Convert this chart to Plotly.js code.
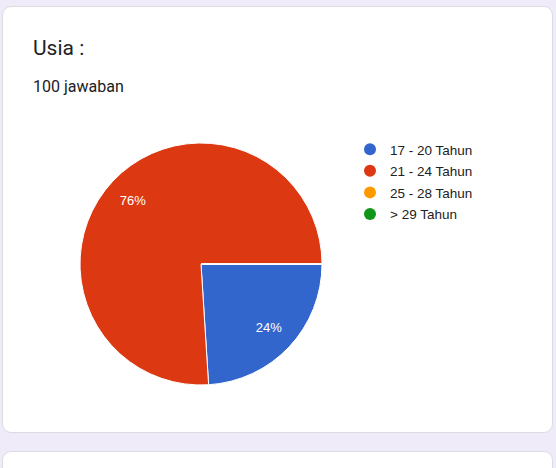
<!DOCTYPE html>
<html>
<head>
<meta charset="utf-8">
<script src="https://cdn.plot.ly/plotly-3.0.1.min.js"></script>
<style>
  html, body { margin:0; padding:0; width:556px; height:468px; overflow:hidden; background:#f0ebf8; }
  .card { position:absolute; background:#fff; border:1px solid #dadce0; border-radius:9px; }
  #chart { position:absolute; left:0; top:0; width:556px; height:468px; }
</style>
</head>
<body>
<div class="card" style="left:2px; top:6px; width:549px; height:425px;"></div>
<div class="card" style="left:2px; top:451px; width:549px; height:40px;"></div>
<div id="chart"></div>
<script>
const categories = ["17 - 20 Tahun", "21 - 24 Tahun", "25 - 28 Tahun", "> 29 Tahun"];
const values = [24, 76, 0, 0];
const colors = ["#3366cc", "#dc3912", "#ff9900", "#109618"];
const titleText = "Usia :";
const subtitleText = "100 jawaban";

const W = 556, H = 468;
const cx = 201, cy = 264, r = 121;
const pieDomain = { x: [(cx - r) / W, (cx + r) / W], y: [(H - cy - r) / H, (H - cy + r) / H] };

const traces = [{
  type: "pie",
  labels: categories,
  values: values,
  marker: { colors: colors, line: { color: "#ffffff", width: 1 } },
  sort: false,
  direction: "clockwise",
  rotation: 90,
  textinfo: "none",
  showlegend: false,
  hoverinfo: "label+percent",
  domain: pieDomain
}, {
  // transparent ring carrying the percentage labels at ~0.77 of the radius
  type: "pie",
  labels: categories,
  values: values,
  hole: 0.54,
  marker: { colors: ["rgba(0,0,0,0)", "rgba(0,0,0,0)", "rgba(0,0,0,0)", "rgba(0,0,0,0)"], line: { width: 0 } },
  sort: false,
  direction: "clockwise",
  rotation: 90,
  texttemplate: "%{percent:.0%}",
  textposition: "inside",
  insidetextorientation: "horizontal",
  textfont: { family: "Arial, 'Liberation Sans', sans-serif", size: 13, color: "#ffffff" },
  showlegend: false,
  hoverinfo: "skip",
  domain: pieDomain
}];

categories.forEach((c, i) => {
  traces.push({
    type: "scatter", mode: "markers", x: [null], y: [null], name: c,
    legendgroup: "g" + i,
    marker: { color: colors[i], size: 12, symbol: "circle" },
    showlegend: true, hoverinfo: "skip"
  });
});

const layout = {
  width: W, height: H,
  margin: { l: 0, r: 0, t: 0, b: 0 },
  paper_bgcolor: "rgba(0,0,0,0)",
  plot_bgcolor: "rgba(0,0,0,0)",
  xaxis: { visible: false, domain: [0.9, 1] },
  yaxis: { visible: false, domain: [0.9, 1] },
  title: {
    text: titleText,
    x: 33 / W, xanchor: "left", xref: "paper",
    y: 1 - 48 / H, yanchor: "middle", yref: "paper",
    font: { family: "Roboto, 'Noto Sans', sans-serif", size: 21, color: "#202124" }
  },
  annotations: [{
    text: subtitleText, xref: "paper", yref: "paper",
    x: 31 / W, xanchor: "left", y: 1 - 86 / H, yanchor: "middle",
    showarrow: false,
    font: { family: "Roboto, 'Noto Sans', sans-serif", size: 16, color: "#202124" }
  }],
  legend: {
    x: 350 / W, xanchor: "left", y: 1 - 134 / H, yanchor: "top",
    bgcolor: "rgba(0,0,0,0)",
    tracegroupgap: 1,
    font: { family: "Arial, 'Liberation Sans', sans-serif", size: 13.5, color: "#222222" },
    itemclick: false, itemdoubleclick: false
  },
  showlegend: true
};

Plotly.newPlot("chart", traces, layout, { displayModeBar: false, staticPlot: true });
</script>
</body>
</html>
